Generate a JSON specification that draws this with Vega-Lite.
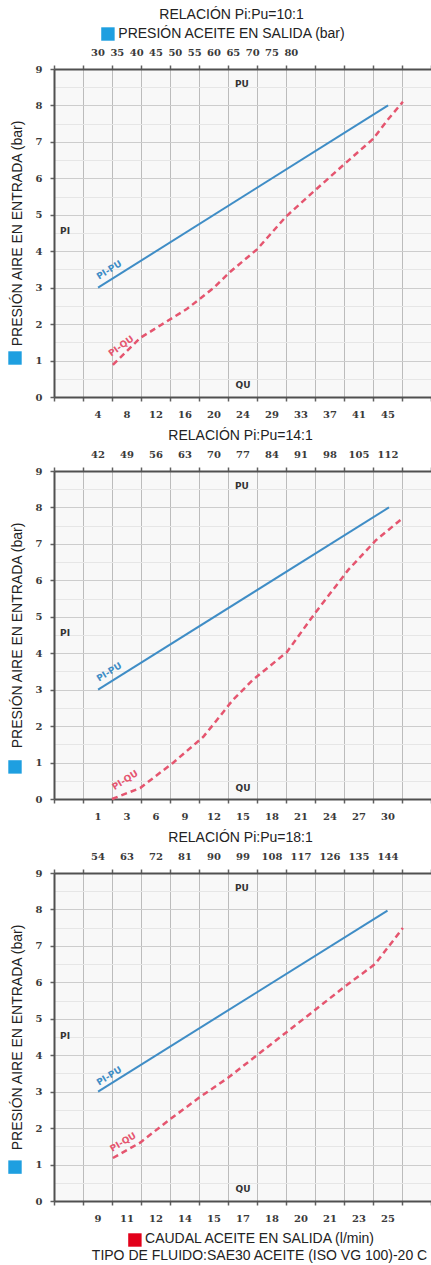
{
  "$schema": "https://vega.github.io/schema/vega-lite/v6.json",
  "background": "white",
  "padding": {"left": 8, "top": 8, "right": 0, "bottom": 1},
  "datasets": {
    "lines": [
      {"panel": 1, "serie": "PI-PU", "u": 1.52, "p": 3.0},
      {"panel": 1, "serie": "PI-PU", "u": 11.52, "p": 8.0},
      {"panel": 1, "serie": "PI-QU", "u": 2.03, "p": 0.88},
      {"panel": 1, "serie": "PI-QU", "u": 2.97, "p": 1.62},
      {"panel": 1, "serie": "PI-QU", "u": 4.59, "p": 2.42},
      {"panel": 1, "serie": "PI-QU", "u": 5.5, "p": 2.99},
      {"panel": 1, "serie": "PI-QU", "u": 6.07, "p": 3.43},
      {"panel": 1, "serie": "PI-QU", "u": 7.0, "p": 4.05},
      {"panel": 1, "serie": "PI-QU", "u": 8.0, "p": 4.95},
      {"panel": 1, "serie": "PI-QU", "u": 9.0, "p": 5.67},
      {"panel": 1, "serie": "PI-QU", "u": 10.0, "p": 6.38},
      {"panel": 1, "serie": "PI-QU", "u": 11.0, "p": 7.08},
      {"panel": 1, "serie": "PI-QU", "u": 11.5, "p": 7.6},
      {"panel": 1, "serie": "PI-QU", "u": 12.03, "p": 8.1},
      {"panel": 2, "serie": "PI-PU", "u": 1.52, "p": 3.0},
      {"panel": 2, "serie": "PI-PU", "u": 11.55, "p": 8.0},
      {"panel": 2, "serie": "PI-QU", "u": 2.0, "p": 0.0},
      {"panel": 2, "serie": "PI-QU", "u": 2.97, "p": 0.3},
      {"panel": 2, "serie": "PI-QU", "u": 4.1, "p": 0.99},
      {"panel": 2, "serie": "PI-QU", "u": 5.14, "p": 1.7},
      {"panel": 2, "serie": "PI-QU", "u": 5.5, "p": 2.05},
      {"panel": 2, "serie": "PI-QU", "u": 6.17, "p": 2.72},
      {"panel": 2, "serie": "PI-QU", "u": 6.86, "p": 3.27},
      {"panel": 2, "serie": "PI-QU", "u": 8.03, "p": 4.03},
      {"panel": 2, "serie": "PI-QU", "u": 9.0, "p": 5.1},
      {"panel": 2, "serie": "PI-QU", "u": 9.62, "p": 5.74},
      {"panel": 2, "serie": "PI-QU", "u": 10.14, "p": 6.28},
      {"panel": 2, "serie": "PI-QU", "u": 11.1, "p": 7.1},
      {"panel": 2, "serie": "PI-QU", "u": 12.03, "p": 7.71},
      {"panel": 3, "serie": "PI-PU", "u": 1.52, "p": 3.0},
      {"panel": 3, "serie": "PI-PU", "u": 11.5, "p": 7.97},
      {"panel": 3, "serie": "PI-QU", "u": 2.03, "p": 1.18},
      {"panel": 3, "serie": "PI-QU", "u": 2.97, "p": 1.6},
      {"panel": 3, "serie": "PI-QU", "u": 3.93, "p": 2.2},
      {"panel": 3, "serie": "PI-QU", "u": 5.03, "p": 2.85},
      {"panel": 3, "serie": "PI-QU", "u": 6.0, "p": 3.38},
      {"panel": 3, "serie": "PI-QU", "u": 7.0, "p": 4.0},
      {"panel": 3, "serie": "PI-QU", "u": 8.03, "p": 4.64},
      {"panel": 3, "serie": "PI-QU", "u": 9.0, "p": 5.24},
      {"panel": 3, "serie": "PI-QU", "u": 9.97, "p": 5.85},
      {"panel": 3, "serie": "PI-QU", "u": 11.07, "p": 6.5},
      {"panel": 3, "serie": "PI-QU", "u": 12.03, "p": 7.49}
    ],
    "notes": [
      {"panel": 1, "kind": "axis", "text": "PU", "u": 6.48, "p": 8.59},
      {"panel": 1, "kind": "axis", "text": "QU", "u": 6.52, "p": 0.33},
      {"panel": 1, "kind": "axis", "text": "PI", "u": 0.38, "p": 4.56},
      {"panel": 1, "kind": "pu", "text": "PI-PU", "u": 1.9, "p": 3.49},
      {"panel": 1, "kind": "qu", "text": "PI-QU", "u": 2.31, "p": 1.4},
      {"panel": 2, "kind": "axis", "text": "PU", "u": 6.48, "p": 8.59},
      {"panel": 2, "kind": "axis", "text": "QU", "u": 6.52, "p": 0.3},
      {"panel": 2, "kind": "axis", "text": "PI", "u": 0.38, "p": 4.56},
      {"panel": 2, "kind": "pu", "text": "PI-PU", "u": 1.9, "p": 3.49},
      {"panel": 2, "kind": "qu", "text": "PI-QU", "u": 2.45, "p": 0.52},
      {"panel": 3, "kind": "axis", "text": "PU", "u": 6.48, "p": 8.59},
      {"panel": 3, "kind": "axis", "text": "QU", "u": 6.52, "p": 0.33},
      {"panel": 3, "kind": "axis", "text": "PI", "u": 0.38, "p": 4.53},
      {"panel": 3, "kind": "pu", "text": "PI-PU", "u": 1.9, "p": 3.43},
      {"panel": 3, "kind": "qu", "text": "PI-QU", "u": 2.38, "p": 1.62}
    ],
    "keys": [
      {"panel": 1, "key": "aire", "u": -1.345, "p": 1.07},
      {"panel": 1, "key": "aceite", "u": 1.86, "p": 9.96},
      {"panel": 2, "key": "aire", "u": -1.345, "p": 0.88},
      {"panel": 3, "key": "aire", "u": -1.345, "p": 0.93},
      {"panel": 3, "key": "caudal", "u": 2.79, "p": -1.07}
    ]
  },
  "spacing": 74,
  "bounds": "flush",
  "vconcat": [
    {
      "width": 377,
      "height": 328,
      "title": {"text": "RELACIÓN Pi:Pu=10:1", "subtitle": "PRESIÓN ACEITE EN SALIDA (bar)", "anchor": "middle", "dx": -11, "offset": -14, "subtitlePadding": 5},
      "resolve": {"axis": {"x": "independent", "y": "independent"}},
      "layer": [
        {
          "data": {"name": "lines"},
          "transform": [{"filter": "datum.panel === 1 && datum.serie === 'PI-PU'"}],
          "mark": {"type": "line", "color": "#3f8dc6", "strokeWidth": 2},
          "encoding": {
            "x": {"field": "u", "type": "quantitative", "scale": {"domain": [0, 13], "nice": false, "zero": false},
              "axis": {"orient": "bottom", "values": [0,1,2,3,4,5,6,7,8,9,10,11,12,13], "grid": true, "gridColor": "#bcbcbc", "tickSize": 4, "labelPadding": 8, "labelOffset": 14.5, "labelOverlap": false, "labelFlush": false, "labelBound": false,
                "labelExpr": "['','4','8','12','16','20','24','29','33','37','41','45'][datum.value] || ''", "title": null}},
            "y": {"field": "p", "type": "quantitative", "scale": {"domain": [0, 9], "nice": false, "zero": false},
              "axis": {"orient": "left", "values": [0,0.5,1,1.5,2,2.5,3,3.5,4,4.5,5,5.5,6,6.5,7,7.5,8,8.5,9], "grid": true,
                "gridColor": {"condition": {"test": "datum.value % 1 === 0", "value": "#cdcdcd"}, "value": "#e6e6e6"},
                "tickOpacity": {"condition": {"test": "datum.value % 1 === 0", "value": 1}, "value": 0},
                "tickSize": 4, "labelPadding": 8, "labelOverlap": false, "labelFlush": false,
                "labelExpr": "datum.value % 1 === 0 ? format(datum.value, 'd') : ''",
                "title": "PRESIÓN AIRE EN ENTRADA (bar)", "titlePadding": 11}}
          }
        },
        {
          "data": {"name": "lines"},
          "transform": [{"filter": "datum.panel === 1 && datum.serie === 'PI-QU'"}],
          "mark": {"type": "line", "color": "#e5556f", "strokeWidth": 2.5, "strokeDash": [6, 4]},
          "encoding": {
            "x": {"field": "u", "type": "quantitative", "scale": {"domain": [0, 13], "nice": false, "zero": false},
              "axis": {"orient": "top", "values": [0,1,2,3,4,5,6,7,8,9,10,11,12,13], "grid": false, "tickSize": 4, "labels": false, "title": null}},
            "y": {"field": "p", "type": "quantitative", "axis": null}
          }
        },
        {
          "data": {"name": "notes"},
          "transform": [{"filter": "datum.panel === 1 && datum.kind === 'axis'"}],
          "mark": {"type": "text", "font": "DejaVu Sans", "fontSize": 9, "fontWeight": "bold", "color": "#333"},
          "encoding": {
            "x": {"field": "u", "type": "quantitative", "scale": {"domain": [0, 13], "nice": false, "zero": false},
              "axis": {"orient": "top", "values": [1.5, 2.16667, 2.83333, 3.5, 4.16667, 4.83333, 5.5, 6.16667, 6.83333, 7.5, 8.16667], "grid": false, "domain": false, "ticks": false, "labelPadding": 12, "labelOverlap": false, "labelFlush": false, "labelBound": false,
                "labelExpr": "['30','35','40','45','50','55','60','65','70','75','80'][round((datum.value - 1.5) * 1.5)]", "title": null}},
            "y": {"field": "p", "type": "quantitative", "axis": null},
            "text": {"field": "text"}
          }
        },
        {
          "data": {"name": "notes"},
          "transform": [{"filter": "datum.panel === 1 && datum.kind === 'pu'"}],
          "mark": {"type": "text", "font": "DejaVu Sans", "fontSize": 9, "fontWeight": "bold", "color": "#3f8dc6", "angle": 328},
          "encoding": {"x": {"field": "u", "type": "quantitative", "axis": null}, "y": {"field": "p", "type": "quantitative", "axis": null}, "text": {"field": "text"}}
        },
        {
          "data": {"name": "notes"},
          "transform": [{"filter": "datum.panel === 1 && datum.kind === 'qu'"}],
          "mark": {"type": "text", "font": "DejaVu Sans", "fontSize": 9, "fontWeight": "bold", "color": "#e5556f", "angle": 324},
          "encoding": {"x": {"field": "u", "type": "quantitative", "axis": null}, "y": {"field": "p", "type": "quantitative", "axis": null}, "text": {"field": "text"}}
        },
        {
          "data": {"name": "keys"},
          "transform": [{"filter": "datum.panel === 1"}],
          "mark": {"type": "point", "shape": "square", "filled": true, "size": 180, "opacity": 1},
          "encoding": {"x": {"field": "u", "type": "quantitative", "axis": null}, "y": {"field": "p", "type": "quantitative", "axis": null},
            "color": {"field": "key", "type": "nominal", "scale": {"domain": ["aire", "aceite", "caudal"], "range": ["#1e9fe0", "#1e9fe0", "#e2001a"]}, "legend": null}}
        }
      ]
    },
    {
      "width": 377,
      "height": 328,
      "title": {"text": "RELACIÓN Pi:Pu=14:1", "anchor": "middle", "dx": -2, "offset": 6},
      "resolve": {"axis": {"x": "independent", "y": "independent"}},
      "layer": [
        {
          "data": {"name": "lines"},
          "transform": [{"filter": "datum.panel === 2 && datum.serie === 'PI-PU'"}],
          "mark": {"type": "line", "color": "#3f8dc6", "strokeWidth": 2},
          "encoding": {
            "x": {"field": "u", "type": "quantitative", "scale": {"domain": [0, 13], "nice": false, "zero": false},
              "axis": {"orient": "bottom", "values": [0,1,2,3,4,5,6,7,8,9,10,11,12,13], "grid": true, "gridColor": "#bcbcbc", "tickSize": 4, "labelPadding": 8, "labelOffset": 14.5, "labelOverlap": false, "labelFlush": false, "labelBound": false,
                "labelExpr": "['','1','3','6','9','12','15','18','21','24','27','30'][datum.value] || ''", "title": null}},
            "y": {"field": "p", "type": "quantitative", "scale": {"domain": [0, 9], "nice": false, "zero": false},
              "axis": {"orient": "left", "values": [0,0.5,1,1.5,2,2.5,3,3.5,4,4.5,5,5.5,6,6.5,7,7.5,8,8.5,9], "grid": true,
                "gridColor": {"condition": {"test": "datum.value % 1 === 0", "value": "#cdcdcd"}, "value": "#e6e6e6"},
                "tickOpacity": {"condition": {"test": "datum.value % 1 === 0", "value": 1}, "value": 0},
                "tickSize": 4, "labelPadding": 8, "labelOverlap": false, "labelFlush": false,
                "labelExpr": "datum.value % 1 === 0 ? format(datum.value, 'd') : ''",
                "title": "PRESIÓN AIRE EN ENTRADA (bar)", "titlePadding": 11}}
          }
        },
        {
          "data": {"name": "lines"},
          "transform": [{"filter": "datum.panel === 2 && datum.serie === 'PI-QU'"}],
          "mark": {"type": "line", "color": "#e5556f", "strokeWidth": 2.5, "strokeDash": [6, 4]},
          "encoding": {
            "x": {"field": "u", "type": "quantitative", "scale": {"domain": [0, 13], "nice": false, "zero": false},
              "axis": {"orient": "top", "values": [0,1,2,3,4,5,6,7,8,9,10,11,12,13], "grid": false, "tickSize": 4, "labelPadding": 8, "labelOffset": 14.5, "labelOverlap": false, "labelFlush": false, "labelBound": false,
                "labelExpr": "['','42','49','56','63','70','77','84','91','98','105','112'][datum.value] || ''", "title": null}},
            "y": {"field": "p", "type": "quantitative", "axis": null}
          }
        },
        {
          "data": {"name": "notes"},
          "transform": [{"filter": "datum.panel === 2 && datum.kind === 'axis'"}],
          "mark": {"type": "text", "font": "DejaVu Sans", "fontSize": 9, "fontWeight": "bold", "color": "#333"},
          "encoding": {"x": {"field": "u", "type": "quantitative", "axis": null}, "y": {"field": "p", "type": "quantitative", "axis": null}, "text": {"field": "text"}}
        },
        {
          "data": {"name": "notes"},
          "transform": [{"filter": "datum.panel === 2 && datum.kind === 'pu'"}],
          "mark": {"type": "text", "font": "DejaVu Sans", "fontSize": 9, "fontWeight": "bold", "color": "#3f8dc6", "angle": 328},
          "encoding": {"x": {"field": "u", "type": "quantitative", "axis": null}, "y": {"field": "p", "type": "quantitative", "axis": null}, "text": {"field": "text"}}
        },
        {
          "data": {"name": "notes"},
          "transform": [{"filter": "datum.panel === 2 && datum.kind === 'qu'"}],
          "mark": {"type": "text", "font": "DejaVu Sans", "fontSize": 9, "fontWeight": "bold", "color": "#e5556f", "angle": 328},
          "encoding": {"x": {"field": "u", "type": "quantitative", "axis": null}, "y": {"field": "p", "type": "quantitative", "axis": null}, "text": {"field": "text"}}
        },
        {
          "data": {"name": "keys"},
          "transform": [{"filter": "datum.panel === 2"}],
          "mark": {"type": "point", "shape": "square", "filled": true, "size": 180, "opacity": 1},
          "encoding": {"x": {"field": "u", "type": "quantitative", "axis": null}, "y": {"field": "p", "type": "quantitative", "axis": null},
            "color": {"field": "key", "type": "nominal", "scale": {"domain": ["aire", "aceite", "caudal"], "range": ["#1e9fe0", "#1e9fe0", "#e2001a"]}, "legend": null}}
        }
      ]
    },
    {
      "width": 377,
      "height": 328,
      "title": {"text": "RELACIÓN Pi:Pu=18:1", "anchor": "middle", "dx": -2, "offset": 6},
      "resolve": {"axis": {"x": "independent", "y": "independent"}},
      "layer": [
        {
          "data": {"name": "lines"},
          "transform": [{"filter": "datum.panel === 3 && datum.serie === 'PI-PU'"}],
          "mark": {"type": "line", "color": "#3f8dc6", "strokeWidth": 2},
          "encoding": {
            "x": {"field": "u", "type": "quantitative", "scale": {"domain": [0, 13], "nice": false, "zero": false},
              "axis": {"orient": "bottom", "values": [0,1,2,3,4,5,6,7,8,9,10,11,12,13], "grid": true, "gridColor": "#bcbcbc", "tickSize": 4, "labelPadding": 8, "labelOffset": 14.5, "labelOverlap": false, "labelFlush": false, "labelBound": false,
                "labelExpr": "['','9','11','12','14','15','17','18','20','21','23','25'][datum.value] || ''",
                "title": ["CAUDAL ACEITE EN SALIDA (l/min)", "TIPO DE FLUIDO:SAE30 ACEITE (ISO VG 100)-20 C"], "titleLineHeight": 17, "titlePadding": 8, "titleX": 205, "titleAlign": "center"}},
            "y": {"field": "p", "type": "quantitative", "scale": {"domain": [0, 9], "nice": false, "zero": false},
              "axis": {"orient": "left", "values": [0,0.5,1,1.5,2,2.5,3,3.5,4,4.5,5,5.5,6,6.5,7,7.5,8,8.5,9], "grid": true,
                "gridColor": {"condition": {"test": "datum.value % 1 === 0", "value": "#cdcdcd"}, "value": "#e6e6e6"},
                "tickOpacity": {"condition": {"test": "datum.value % 1 === 0", "value": 1}, "value": 0},
                "tickSize": 4, "labelPadding": 8, "labelOverlap": false, "labelFlush": false,
                "labelExpr": "datum.value % 1 === 0 ? format(datum.value, 'd') : ''",
                "title": "PRESIÓN AIRE EN ENTRADA (bar)", "titlePadding": 11}}
          }
        },
        {
          "data": {"name": "lines"},
          "transform": [{"filter": "datum.panel === 3 && datum.serie === 'PI-QU'"}],
          "mark": {"type": "line", "color": "#e5556f", "strokeWidth": 2.5, "strokeDash": [6, 4]},
          "encoding": {
            "x": {"field": "u", "type": "quantitative", "scale": {"domain": [0, 13], "nice": false, "zero": false},
              "axis": {"orient": "top", "values": [0,1,2,3,4,5,6,7,8,9,10,11,12,13], "grid": false, "tickSize": 4, "labelPadding": 8, "labelOffset": 14.5, "labelOverlap": false, "labelFlush": false, "labelBound": false,
                "labelExpr": "['','54','63','72','81','90','99','108','117','126','135','144'][datum.value] || ''", "title": null}},
            "y": {"field": "p", "type": "quantitative", "axis": null}
          }
        },
        {
          "data": {"name": "notes"},
          "transform": [{"filter": "datum.panel === 3 && datum.kind === 'axis'"}],
          "mark": {"type": "text", "font": "DejaVu Sans", "fontSize": 9, "fontWeight": "bold", "color": "#333"},
          "encoding": {"x": {"field": "u", "type": "quantitative", "axis": null}, "y": {"field": "p", "type": "quantitative", "axis": null}, "text": {"field": "text"}}
        },
        {
          "data": {"name": "notes"},
          "transform": [{"filter": "datum.panel === 3 && datum.kind === 'pu'"}],
          "mark": {"type": "text", "font": "DejaVu Sans", "fontSize": 9, "fontWeight": "bold", "color": "#3f8dc6", "angle": 328},
          "encoding": {"x": {"field": "u", "type": "quantitative", "axis": null}, "y": {"field": "p", "type": "quantitative", "axis": null}, "text": {"field": "text"}}
        },
        {
          "data": {"name": "notes"},
          "transform": [{"filter": "datum.panel === 3 && datum.kind === 'qu'"}],
          "mark": {"type": "text", "font": "DejaVu Sans", "fontSize": 9, "fontWeight": "bold", "color": "#e5556f", "angle": 329},
          "encoding": {"x": {"field": "u", "type": "quantitative", "axis": null}, "y": {"field": "p", "type": "quantitative", "axis": null}, "text": {"field": "text"}}
        },
        {
          "data": {"name": "keys"},
          "transform": [{"filter": "datum.panel === 3"}],
          "mark": {"type": "point", "shape": "square", "filled": true, "size": 180, "opacity": 1},
          "encoding": {"x": {"field": "u", "type": "quantitative", "axis": null}, "y": {"field": "p", "type": "quantitative", "axis": null},
            "color": {"field": "key", "type": "nominal", "scale": {"domain": ["aire", "aceite", "caudal"], "range": ["#1e9fe0", "#1e9fe0", "#e2001a"]}, "legend": null}}
        }
      ]
    }
  ],
  "config": {
    "view": {"fill": "#f8f8f8", "stroke": null},
    "axis": {
      "labelFont": "DejaVu Serif", "labelFontWeight": "bold", "labelFontSize": 10, "labelColor": "#3a3a3a",
      "titleFont": "Liberation Sans", "titleFontSize": 14, "titleFontWeight": "normal", "titleColor": "#222",
      "domainColor": "#505050", "domainWidth": 2, "tickColor": "#606060", "tickWidth": 1.5
    },
    "title": {"font": "Liberation Sans", "fontSize": 14, "fontWeight": "normal", "color": "#222",
      "subtitleFont": "Liberation Sans", "subtitleFontSize": 14, "subtitleColor": "#222"}
  }
}
